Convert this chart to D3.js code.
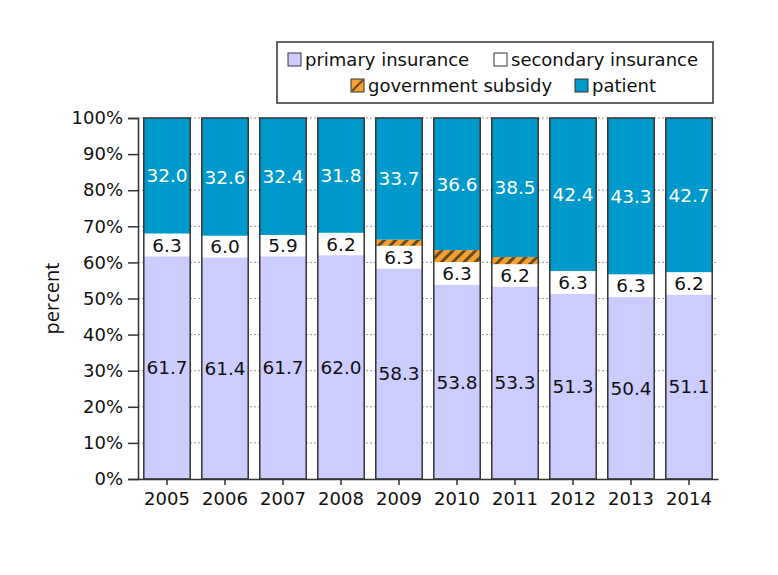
<!DOCTYPE html>
<html>
<head>
<meta charset="utf-8">
<script src="https://cdn.jsdelivr.net/npm/d3@7"></script>
<style>
  body { margin: 0; background: #fff; }
  svg text { font-family: "DejaVu Sans", Verdana, sans-serif; }
</style>
</head>
<body>
<div id="chart"></div>
<script>
// data
let years = ["2005", "2006", "2007", "2008", "2009", "2010", "2011", "2012", "2013", "2014"];
let primary = [61.7, 61.4, 61.7, 62.0, 58.3, 53.8, 53.3, 51.3, 50.4, 51.1];
let secondary = [6.3, 6.0, 5.9, 6.2, 6.3, 6.3, 6.2, 6.3, 6.3, 6.2];
let subsidy = [0, 0, 0, 0, 1.7, 3.3, 2.0, 0, 0, 0];
let patient = [32.0, 32.6, 32.4, 31.8, 33.7, 36.6, 38.5, 42.4, 43.3, 42.7];
let yTicks = [0, 10, 20, 30, 40, 50, 60, 70, 80, 90, 100];

let width = 778, height = 575;
let margin = {top: 118, right: 60, bottom: 96, left: 138};

let keys = ["primary", "secondary", "subsidy", "patient"];
let labels = {primary: "primary insurance", secondary: "secondary insurance",
              subsidy: "government subsidy", patient: "patient"};
let fills = {primary: "#ccccff", secondary: "#ffffff", subsidy: "url(#hatch)", patient: "#0099cc"};

let table = years.map(function (y, i) {
  return {year: y, primary: primary[i], secondary: secondary[i], subsidy: subsidy[i], patient: patient[i]};
});
let series = d3.stack().keys(keys)(table);

let svg = d3.select("#chart").append("svg")
  .attr("width", width)
  .attr("height", height);

let defs = svg.append("defs");
let pat = defs.append("pattern")
  .attr("id", "hatch")
  .attr("patternUnits", "userSpaceOnUse")
  .attr("width", 8).attr("height", 8)
  .attr("patternTransform", "rotate(45)");
pat.append("rect").attr("width", 8).attr("height", 8).attr("fill", "#f5a033");
pat.append("rect").attr("width", 3).attr("height", 8).attr("fill", "#6b4a1a");

let x = d3.scaleBand()
  .domain(years)
  .range([margin.left, width - margin.right])
  .paddingInner(0.2)
  .paddingOuter(0.1);

let y = d3.scaleLinear()
  .domain([0, 100])
  .range([height - margin.bottom, margin.top]);

// dotted gridlines behind bars
svg.append("g")
  .selectAll("line")
  .data(yTicks.filter(function (d) { return d > 0; }))
  .enter()
  .append("line")
  .attr("x1", margin.left)
  .attr("x2", width - margin.right)
  .attr("y1", function (d) { return y(d); })
  .attr("y2", function (d) { return y(d); })
  .attr("stroke", "#999")
  .attr("stroke-dasharray", "2,2");

// stacked segments
svg.append("g")
  .selectAll("g")
  .data(series)
  .enter()
  .append("g")
  .attr("fill", function (d) { return fills[d.key]; })
  .selectAll("rect")
  .data(function (d) { return d; })
  .enter()
  .append("rect")
  .attr("x", function (d) { return x(d.data.year); })
  .attr("width", x.bandwidth())
  .attr("y", function (d) { return y(d[1]); })
  .attr("height", function (d) { return y(d[0]) - y(d[1]); });

// bar outlines
svg.append("g")
  .selectAll("rect")
  .data(years)
  .enter()
  .append("rect")
  .attr("x", function (d) { return x(d); })
  .attr("width", x.bandwidth())
  .attr("y", y(100))
  .attr("height", y(0) - y(100))
  .attr("fill", "none")
  .attr("stroke", "#333")
  .attr("stroke-width", 1.5);

// value labels
let labelKeys = ["primary", "secondary", "patient"];
series.filter(function (s) { return labelKeys.indexOf(s.key) >= 0; }).forEach(function (s) {
  svg.append("g")
    .selectAll("text")
    .data(s)
    .enter()
    .append("text")
    .attr("x", function (d) { return x(d.data.year) + x.bandwidth() / 2; })
    .attr("y", function (d) { return (y(d[0]) + y(d[1])) / 2; })
    .attr("dy", "0.36em")
    .attr("text-anchor", "middle")
    .style("font-size", "18.5px")
    .style("fill", s.key === "patient" ? "#ffffff" : "#111")
    .text(function (d) { return (d[1] - d[0]).toFixed(1); });
});

// axes
let yAxis = d3.axisLeft(y)
  .tickValues(yTicks)
  .tickSize(10)
  .tickFormat(function (d) { return d + "%"; });
let gy = svg.append("g")
  .attr("transform", "translate(" + margin.left + ",0)")
  .call(yAxis);
gy.select(".domain").attr("stroke", "#333").attr("stroke-width", 1.5);
gy.selectAll(".tick line").attr("stroke", "#333").attr("stroke-width", 1.5);
gy.selectAll(".tick text").style("font-size", "18px").style("fill", "#111")
  .style("font-family", "DejaVu Sans, Verdana, sans-serif").attr("x", -15);

let xAxis = d3.axisBottom(x).tickSize(6).tickSizeOuter(0);
let gx = svg.append("g")
  .attr("transform", "translate(0," + (height - margin.bottom) + ")")
  .call(xAxis);
gx.select(".domain").attr("stroke", "#333").attr("stroke-width", 1.5);
gx.selectAll(".tick line").attr("stroke", "#333").attr("stroke-width", 1.5);
gx.selectAll(".tick text").style("font-size", "18px").style("fill", "#111")
  .style("font-family", "DejaVu Sans, Verdana, sans-serif").attr("y", 13);

svg.append("text")
  .attr("transform", "translate(59," + ((y(0) + y(100)) / 2) + ") rotate(-90)")
  .attr("text-anchor", "middle")
  .style("font-family", "Open Sans, sans-serif")
  .style("font-size", "20px")
  .style("fill", "#111")
  .text("percent");

// legend
let legend = svg.append("g");
legend.append("rect")
  .attr("x", 277).attr("y", 42)
  .attr("width", 436).attr("height", 61)
  .attr("fill", "#fff")
  .attr("stroke", "#333")
  .attr("stroke-width", 1.5);

let legendItems = [
  {key: "primary", x: 288, y: 60},
  {key: "secondary", x: 494, y: 60},
  {key: "subsidy", x: 351, y: 86},
  {key: "patient", x: 575, y: 86}
];
let li = legend.selectAll(".item")
  .data(legendItems)
  .enter()
  .append("g")
  .attr("class", "item")
  .attr("transform", function (d) { return "translate(" + d.x + "," + d.y + ")"; });
li.append("rect")
  .attr("y", -7)
  .attr("width", 13).attr("height", 13)
  .attr("fill", function (d) { return d.key === "subsidy" ? "#f5a033" : fills[d.key]; })
  .attr("stroke", "#333");
li.filter(function (d) { return d.key === "subsidy"; })
  .append("line")
  .attr("x1", 1).attr("y1", 5).attr("x2", 12).attr("y2", -6)
  .attr("stroke", "#6b4a1a").attr("stroke-width", 2);
li.append("text")
  .attr("x", 17)
  .attr("dy", "0.36em")
  .style("font-size", "18px")
  .style("fill", "#111")
  .text(function (d) { return labels[d.key]; });
</script>
</body>
</html>
